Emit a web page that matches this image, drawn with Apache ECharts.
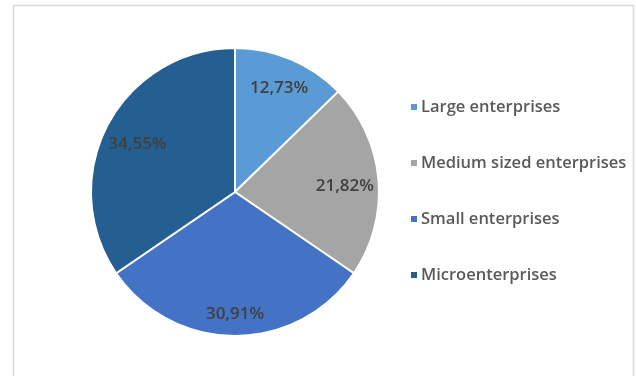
<!DOCTYPE html>
<html>
<head>
<meta charset="utf-8">
<style>
  html, body { margin: 0; padding: 0; background: #ffffff; }
  #chart { width: 636px; height: 376px; }
</style>
<script src="https://cdn.jsdelivr.net/npm/echarts@6/dist/echarts.min.js"></script>
</head>
<body>
<div id="chart"></div>
<script>
const categories = ["Large enterprises", "Medium sized enterprises", "Small enterprises", "Microenterprises"];
const shares = [12.73, 21.82, 30.91, 34.55];
const labelTexts = ["12,73%", "21,82%", "30,91%", "34,55%"];

const colors = ["#5B9BD5", "#A5A5A5", "#4472C4", "#255E91"];
const labelRadiusFactor = [0.765, 0.745, 0.826, 0.745];
const labelExtraDy = [0, 4, 0, 4];
const CX = 235, CY = 192, R = 144;

const total = shares.reduce((a, b) => a + b, 0);
const midAngles = [];
let cum = 0;
for (const v of shares) {
  midAngles.push((90 - (cum + v / 2) / total * 360) * Math.PI / 180);
  cum += v;
}

const chart = echarts.init(document.getElementById('chart'), null, { renderer: 'canvas' });
const FONT = '"Open Sans", "DejaVu Sans", sans-serif';

chart.setOption({
  animation: false,
  backgroundColor: '#ffffff',
  color: colors,
  graphic: [{
    type: 'polyline',
    shape: { points: [[13.5, 380], [13.5, 5.5], [633.5, 5.5], [633.5, 380]] },
    style: { stroke: '#d9d9d9', lineWidth: 1.5, fill: null },
    silent: true
  }],
  legend: {
    orient: 'vertical',
    left: 404,
    top: 91,
    itemWidth: 8,
    itemHeight: 8,
    itemGap: 34,
    icon: 'rect',
    textStyle: {
      fontFamily: FONT,
      fontSize: 16.5,
      fontWeight: 600,
      color: '#595959',
      lineHeight: 22,
      padding: [0, 0, 0, -2]
    },
    data: categories
  },
  series: [{
    type: 'pie',
    center: [CX, CY],
    radius: R,
    startAngle: 90,
    clockwise: true,
    avoidLabelOverlap: false,
    itemStyle: { borderColor: '#ffffff', borderWidth: 2 },
    label: {
      show: true,
      position: 'inside',
      formatter: p => labelTexts[p.dataIndex],
      fontFamily: FONT,
      fontSize: 17,
      fontWeight: 600,
      color: '#404040'
    },
    labelLine: { show: false },
    labelLayout: function (params) {
      const i = params.dataIndex;
      const a = midAngles[i];
      const shift = (labelRadiusFactor[i] - 0.5) * R;
      return { dx: Math.cos(a) * shift, dy: -Math.sin(a) * shift + labelExtraDy[i] };
    },
    emphasis: { disabled: true },
    data: categories.map((c, i) => ({ name: c, value: shares[i] }))
  }]
});
</script>
</body>
</html>
